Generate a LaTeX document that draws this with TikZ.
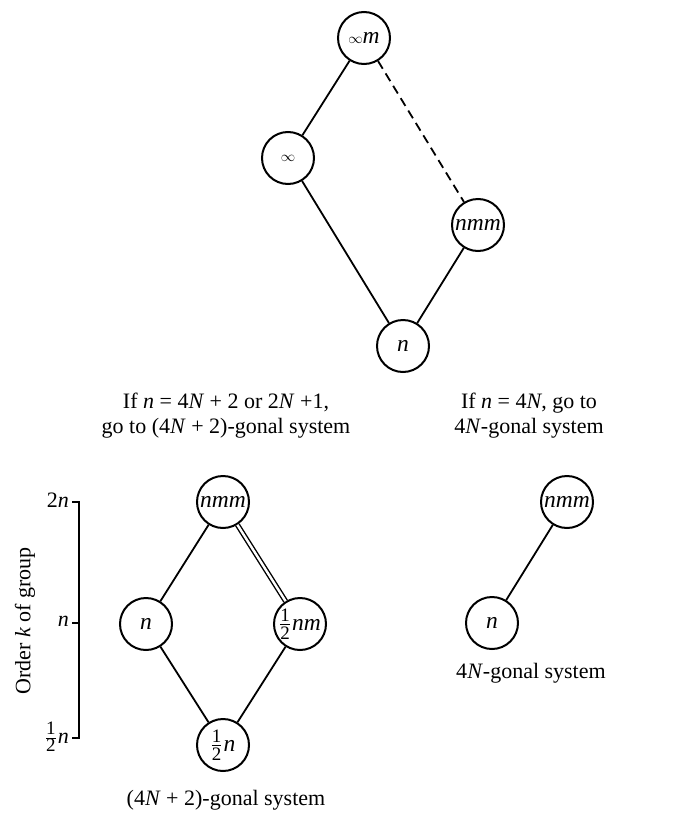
\documentclass[tikz,border=0pt]{standalone}
\usepackage{fontspec}
\setmainfont{Liberation Serif}
\newcommand\myinf{{\fontsize{15}{15}\selectfont$\infty$}}
\newcommand\myhalf{$\frac{\hbox{\fontsize{19}{19}\selectfont 1}}{\hbox{\fontsize{19}{19}\selectfont 2}}$\kern1pt}
\begin{document}
\begin{tikzpicture}[x=1pt,y=-1pt,
  grp/.style={circle,draw,line width=2pt,minimum size=52pt,inner sep=0pt,font=\fontsize{23.5}{26}\selectfont},
  edge/.style={line width=1.8pt},
  txt/.style={font=\fontsize{22}{26}\selectfont,inner sep=0pt},
]
\useasboundingbox (0,0) rectangle (681,814);

% top lattice
\node[grp] (im) at (364,38) {\myinf\textit{m}};
\node[grp] (i) at (288,158) {\myinf};
\node[grp] (tnmm) at (478,225) {\textit{nmm}};
\node[grp] (tn) at (403,346) {\textit{n}};
\draw[edge] (im) -- (i);
\draw[edge] (i) -- (tn);
\draw[edge] (tn) -- (tnmm);
\draw[edge,dash pattern=on 9pt off 5.5pt] (im) -- (tnmm);

% captions
\node[txt,anchor=base] (c1a) at (226,408) {If \textit{n} = 4\textit{N} + 2 or 2\textit{N} +1,};
\node[txt,anchor=base] (c1b) at (226,433) {go to (4\textit{N} + 2)-gonal system};
\node[txt,anchor=base] (c2a) at (529,408) {If \textit{n} = 4\textit{N}, go to};
\node[txt,anchor=base] (c2b) at (529,433) {4\textit{N}-gonal system};

% bottom-left diamond
\node[grp] (bnmm) at (223,502) {\textit{nmm}};
\node[grp] (bn) at (146,624) {\textit{n}};
\node[grp] (bhnm) at (300,624) {\myhalf\textit{nm}};
\node[grp] (bhn) at (223,745) {\myhalf\textit{n}};
\draw[edge] (bnmm) -- (bn);
\draw[edge] (bn) -- (bhn);
\draw[edge] (bhnm) -- (bhn);
\draw[line width=1.4pt,double,double distance=2.4pt] (bnmm) -- (bhnm);
\node[txt,anchor=base] (c3) at (226,805) {(4\textit{N} + 2)-gonal system};

% right pair
\node[grp] (rnmm) at (567,502) {\textit{nmm}};
\node[grp] (rn) at (492,623) {\textit{n}};
\draw[edge] (rn) -- (rnmm);
\node[txt,anchor=base] (c4) at (531,678) {4\textit{N}-gonal system};

% axis
\coordinate (a1) at (79,502);
\coordinate (a2) at (79,623);
\coordinate (a3) at (79,738);
\coordinate (t1) at (72,502);
\coordinate (t2) at (72,623);
\coordinate (t3) at (72,738);
\draw[line width=1.7pt] (t1) -- (a1) -- (a3) -- (t3);
\draw[line width=1.7pt] (t2) -- (a2);
\node[txt,anchor=east] (l1) at (69,500) {2\textit{n}};
\node[txt,anchor=east] (l2) at (69,621) {\textit{n}};
\node[txt,anchor=base east] (l3) at (69,743) {\myhalf\textit{n}};
\node[txt,rotate=90] (ax) at (25,621) {Order \textit{k} of group};
\end{tikzpicture}
\end{document}
